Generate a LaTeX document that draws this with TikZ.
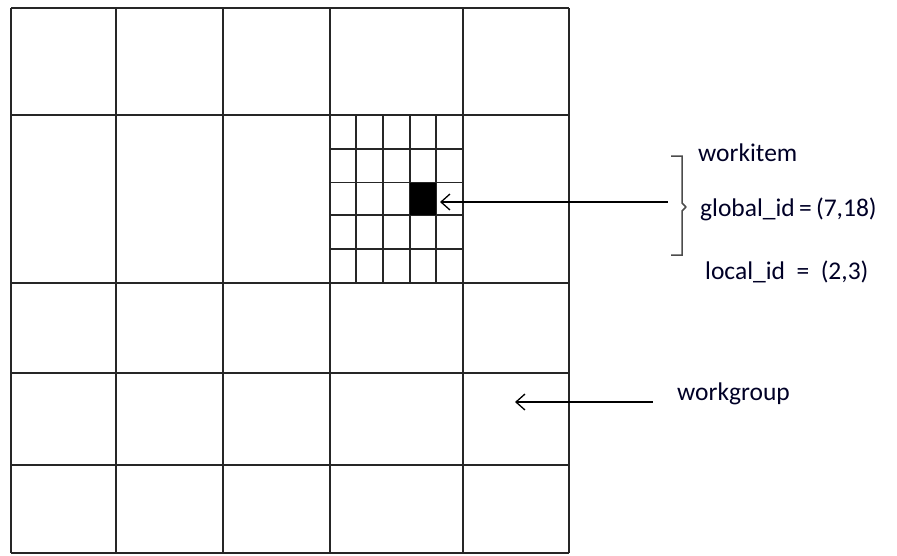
\documentclass[tikz,border=0pt]{standalone}
\usepackage{fontspec}
\setmainfont{Carlito}
\usetikzlibrary{arrows.meta}
\begin{document}
\begin{tikzpicture}[x=1pt,y=-1pt,
  gridline/.style={line width=2.2pt,black!85},
  subline/.style={line width=1.7pt,black!85},
  pointer/.style={line width=1.3pt,black,{Straight Barb[length=9pt,width=16pt,line width=1.3pt]}-},
  label/.style={font=\fontsize{25.5}{29}\selectfont,text=black!85!blue,inner sep=0pt,anchor=west}]
\useasboundingbox (0,0) rectangle (897,555);
% outer grid
\foreach \x in {11,116,223,330,463,569} \draw[gridline] (\x,8) -- (\x,553);
\foreach \y in {8,115,283,373,465,553} \draw[gridline] (11,\y) -- (569,\y);
% sub grid
\foreach \x in {356,383,410,436} \draw[subline] (\x,115) -- (\x,283);
\foreach \y in {149,182.5,215,249} \draw[subline] (330,\y) -- (463,\y);
\node[fill=black,minimum width=26pt,minimum height=32.5pt,inner sep=0pt,anchor=north west] (cell) at (410,182.5) {};
% workitem labels
\node[label] (wi) at (698,153) {workitem};
\node[label] (gid) at (700,209) {global\_id\,=\,(7,18)};
\node[label] (lid) at (705,272) {local\_id\ \ =\ \ (2,3)};
% bracket
\coordinate (bt) at (671,156);
\coordinate (bb) at (671,255);
\coordinate (bm) at (686,207);
\draw[line width=1.5pt,black!70] (bt) -- (682,156) -- (682,203) -- (bm);
\draw[line width=1.5pt,black!70] (bb) -- (682,255) -- (682,211) -- (bm);
% arrows
\coordinate (a1) at (668,202);
\coordinate (t1) at (440,202);
\draw[pointer] (t1) -- (a1);
\node[label] (wg) at (677,394) {workgroup};
\coordinate (a2) at (653,402);
\coordinate (t2) at (515,402);
\draw[pointer] (t2) -- (a2);
\end{tikzpicture}
\end{document}
